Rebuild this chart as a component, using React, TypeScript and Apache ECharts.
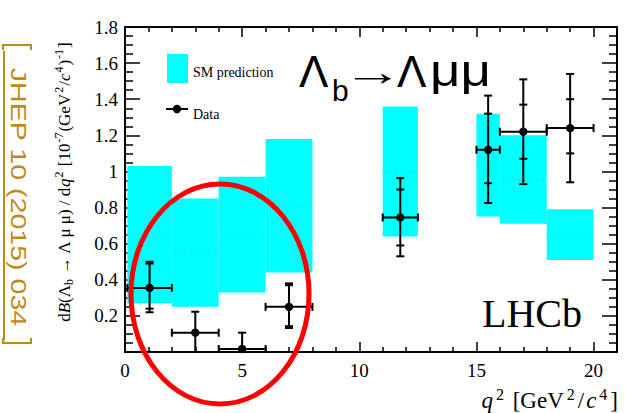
import React, { useEffect, useRef } from "react";
import * as echarts from "echarts";

// SM prediction bins
const binLow = [0.1, 2, 4, 6, 11, 15, 16, 18];
const binHigh = [2, 4, 6, 8, 12.5, 16, 18, 20];
const smLow = [0.27, 0.25, 0.33, 0.44, 0.64, 0.75, 0.71, 0.51];
const smHigh = [1.03, 0.85, 0.97, 1.18, 1.36, 1.32, 1.2, 0.79];
const smCentral = [0.65, 0.55, 0.65, 0.81, 1.0, 1.03, 0.95, 0.65];

// LHCb data
const dataX = [1.05, 3, 5, 7, 11.75, 15.5, 17, 19];
const dataY = [0.355, 0.107, 0.017, 0.25, 0.745, 1.12, 1.22, 1.24];
const totLow = [0.22, 0, 0, 0.133, 0.53, 0.825, 0.93, 0.94];
const totHigh = [0.5, 0.223, 0.107, 0.38, 0.963, 1.42, 1.51, 1.54];
const statLow: (number | null)[] = [0.24, null, null, 0.143, 0.59, 0.935, 1.07, 1.1];
const statHigh: (number | null)[] = [0.49, null, null, 0.37, 0.9, 1.32, 1.37, 1.4];

const xTickLabels = ["0", "5", "10", "15", "20"];
const yTickLabels = ["0.2", "0.4", "0.6", "0.8", "1", "1.2", "1.4", "1.6", "1.8"];

const SERIF = "'Liberation Serif', 'DejaVu Serif', serif";
const SANS = "'Liberation Sans', Arial, sans-serif";
const GOLD = "#bf8a14";

export default function App() {
  const ref = useRef<HTMLDivElement>(null);
  useEffect(() => {
    if (!ref.current) return;
    const chart = echarts.init(ref.current, undefined, { renderer: "svg" });

    const tickStyle = { color: "#000", width: 1.5 };
    const xBase: any = {
      type: "value",
      min: 0,
      max: 21,
      interval: 5,
      axisLine: { show: true, onZero: false, lineStyle: { color: "#000", width: 2 } },
      axisTick: { show: true, inside: true, length: 10, lineStyle: tickStyle },
      minorTick: { show: true, splitNumber: 5, length: 5, lineStyle: tickStyle },
      splitLine: { show: false },
      axisLabel: {
        fontFamily: SERIF,
        fontSize: 19,
        color: "#000",
        margin: 9,
        formatter: (v: number) => {
          const s = String(Math.round(v));
          return xTickLabels.includes(s) && Math.abs(v - Math.round(v)) < 1e-6 ? s : "";
        },
      },
    };
    const yBase: any = {
      type: "value",
      min: 0,
      max: 1.8,
      interval: 0.2,
      axisLine: { show: true, onZero: false, lineStyle: { color: "#000", width: 2 } },
      axisTick: { show: true, inside: true, length: 15, lineStyle: tickStyle },
      minorTick: { show: true, splitNumber: 4, length: 8, lineStyle: tickStyle },
      splitLine: { show: false },
      axisLabel: {
        fontFamily: SERIF,
        fontSize: 19,
        color: "#000",
        margin: 7,
        formatter: (v: number) => {
          const s = String(Math.round(v * 10) / 10);
          return yTickLabels.includes(s) ? s : "";
        },
      },
    };

    const smData = binLow.map((lo, i) => [lo, binHigh[i], smLow[i], smHigh[i], smCentral[i]]);
    const ptData = dataX.map((x, i) => [x, dataY[i]]);

    const option: any = {
      animation: false,
      grid: { left: 125, right: 8, top: 27, bottom: 61, containLabel: false },
      xAxis: [
        { ...xBase, position: "bottom" },
        { ...xBase, position: "top", axisLabel: { show: false } },
      ],
      yAxis: [
        { ...yBase, position: "left" },
        { ...yBase, position: "right", axisLabel: { show: false } },
      ],
      series: [
        {
          type: "custom",
          name: "SM prediction",
          xAxisIndex: 0,
          yAxisIndex: 0,
          z: 1,
          encode: { x: [0, 1], y: [2, 3] },
          data: smData,
          renderItem: (params: any, api: any) => {
            const a = api.coord([api.value(0), api.value(3)]);
            const b = api.coord([api.value(1), api.value(2)]);
            const c1 = api.coord([api.value(0), api.value(4)]);
            const c2 = api.coord([api.value(1), api.value(4)]);
            return {
              type: "group",
              children: [
                {
                  type: "rect",
                  shape: { x: a[0], y: a[1], width: b[0] - a[0], height: b[1] - a[1] },
                  style: { fill: "#00ffff" },
                },
                {
                  type: "line",
                  shape: { x1: c1[0], y1: c1[1], x2: c2[0], y2: c2[1] },
                  style: { stroke: "#1fe3e3", lineWidth: 1, lineDash: [3, 3] },
                },
              ],
            };
          },
        },
        {
          type: "custom",
          name: "Data",
          xAxisIndex: 0,
          yAxisIndex: 0,
          z: 5,
          encode: { x: 0, y: 1 },
          data: ptData,
          renderItem: (params: any, api: any) => {
            const i = params.dataIndex;
            const p = api.coord([dataX[i], dataY[i]]);
            const lo = api.coord([dataX[i], totLow[i]]);
            const hi = api.coord([dataX[i], totHigh[i]]);
            const xl = api.coord([binLow[i], dataY[i]]);
            const xh = api.coord([binHigh[i], dataY[i]]);
            const st = { stroke: "#000", lineWidth: 2 };
            const cw = 4;
            const ch: any[] = [
              { type: "line", shape: { x1: p[0], y1: lo[1], x2: p[0], y2: hi[1] }, style: st },
              { type: "line", shape: { x1: p[0] - cw, y1: hi[1], x2: p[0] + cw, y2: hi[1] }, style: st },
              { type: "line", shape: { x1: xl[0], y1: p[1], x2: xh[0], y2: p[1] }, style: st },
              { type: "line", shape: { x1: xl[0], y1: p[1] - cw, x2: xl[0], y2: p[1] + cw }, style: st },
              { type: "line", shape: { x1: xh[0], y1: p[1] - cw, x2: xh[0], y2: p[1] + cw }, style: st },
            ];
            if (totLow[i] > 0) {
              ch.push({ type: "line", shape: { x1: p[0] - cw, y1: lo[1], x2: p[0] + cw, y2: lo[1] }, style: st });
            }
            const sl = statLow[i];
            const sh = statHigh[i];
            if (sl != null) {
              const q = api.coord([dataX[i], sl]);
              ch.push({ type: "line", shape: { x1: p[0] - cw, y1: q[1], x2: p[0] + cw, y2: q[1] }, style: st });
            }
            if (sh != null) {
              const q = api.coord([dataX[i], sh]);
              ch.push({ type: "line", shape: { x1: p[0] - cw, y1: q[1], x2: p[0] + cw, y2: q[1] }, style: st });
            }
            ch.push({ type: "circle", shape: { cx: p[0], cy: p[1], r: 4.2 }, style: { fill: "#000" } });
            return { type: "group", children: ch };
          },
        },
      ],
      graphic: [
        // legend
        { type: "rect", shape: { x: 167, y: 54, width: 21, height: 29 }, style: { fill: "#00ffff" } },
        {
          type: "text",
          x: 193,
          y: 72,
          style: { text: "SM prediction", font: `14px ${SERIF}`, fill: "#000", verticalAlign: "middle" },
        },
        { type: "line", shape: { x1: 166, y1: 109, x2: 188, y2: 109 }, style: { stroke: "#000", lineWidth: 2 } },
        { type: "circle", shape: { cx: 177, cy: 109, r: 4.2 }, style: { fill: "#000" } },
        {
          type: "text",
          x: 193,
          y: 114,
          style: { text: "Data", font: `14px ${SERIF}`, fill: "#000", verticalAlign: "middle" },
        },
        // decay title
        { type: "text", x: 299, y: 71, style: { text: "Λ", font: `44px ${SANS}`, fill: "#000", verticalAlign: "middle" } },
        { type: "text", x: 332, y: 90, style: { text: "b", font: `30px ${SANS}`, fill: "#000", verticalAlign: "middle" } },
        {
          type: "text",
          x: 373,
          y: 72,
          scaleX: 1.6,
          style: { text: "→", font: `38px ${SANS}`, fill: "#000", align: "center", verticalAlign: "middle" },
        },
        { type: "text", x: 397, y: 71, style: { text: "Λ", font: `44px ${SANS}`, fill: "#000", verticalAlign: "middle" } },
        {
          type: "text",
          x: 430,
          y: 71,
          scaleX: 1.2,
          style: { text: "μμ", font: `44px ${SANS}`, fill: "#000", verticalAlign: "middle" },
        },
        // LHCb
        {
          type: "text",
          x: 582,
          y: 313,
          style: { text: "LHCb", font: `40px ${SERIF}`, fill: "#000", align: "right", verticalAlign: "middle" },
        },
        // x-axis title
        {
          type: "text",
          x: 619,
          y: 399,
          style: {
            align: "right",
            verticalAlign: "middle",
            text: "{i|q}{s|2}{n| [GeV}{s|2}{n|/}{i|c}{s|4}{n|]}",
            rich: {
              n: { font: `23px ${SERIF}`, fill: "#000", lineHeight: 26, verticalAlign: "bottom", padding: [0, 1, 0, 1] },
              i: { font: `italic 23px ${SERIF}`, fill: "#000", lineHeight: 26, verticalAlign: "bottom", padding: [0, 1, 0, 1] },
              s: { font: `16px ${SERIF}`, fill: "#000", lineHeight: 26, verticalAlign: "top", padding: [0, 2, 0, 2] },
            },
          },
        },
        // y-axis title
        {
          type: "text",
          x: 64,
          y: 182,
          rotation: Math.PI / 2,
          style: {
            align: "center",
            verticalAlign: "middle",
            text:
              "{n|d}{i|B}{n|(Λ}{b|b}{n| → Λ μ μ) / d}{i|q}{s|2}{n| [10}{s|-7}{n|(GeV}{s|2}{n|/}{i|c}{s|4}{n|)}{s|-1}{n|]}",
            rich: {
              n: { font: `17px ${SERIF}`, fill: "#000", lineHeight: 22, verticalAlign: "middle" },
              i: { font: `italic 17px ${SERIF}`, fill: "#000", lineHeight: 22, verticalAlign: "middle" },
              s: { font: `12px ${SERIF}`, fill: "#000", lineHeight: 22, verticalAlign: "top", padding: [0, 1, 0, 1] },
              b: { font: `12px ${SERIF}`, fill: "#000", lineHeight: 22, verticalAlign: "bottom" },
            },
          },
        },
        // journal reference
        {
          type: "text",
          x: 19,
          y: 197,
          rotation: -Math.PI / 2,
          scaleX: 1.3,
          style: {
            text: "JHEP 10 (2015) 034",
            font: `22px ${SANS}`,
            fill: GOLD,
            align: "center",
            verticalAlign: "middle",
          },
        },
        { type: "line", shape: { x1: 4, y1: 51, x2: 4, y2: 340 }, style: { stroke: GOLD, lineWidth: 2 } },
        {
          type: "polyline",
          shape: { points: [[3, 50], [3, 45], [31, 45], [31, 50]] },
          style: { stroke: GOLD, lineWidth: 2, fill: "none" },
        },
        {
          type: "polyline",
          shape: { points: [[3, 338], [3, 343], [31, 343], [31, 338]] },
          style: { stroke: GOLD, lineWidth: 2, fill: "none" },
        },
        // red ellipse
        {
          type: "ellipse",
          z: 100,
          shape: { cx: 220, cy: 294, rx: 89, ry: 110 },
          style: { stroke: "#f00", lineWidth: 5, fill: "none" },
        },
      ],
    };
    chart.setOption(option);
    return () => chart.dispose();
  }, []);
  return <div ref={ref} style={{ width: 625, height: 413, position: "absolute", left: 0, top: 0 }} />;
}
